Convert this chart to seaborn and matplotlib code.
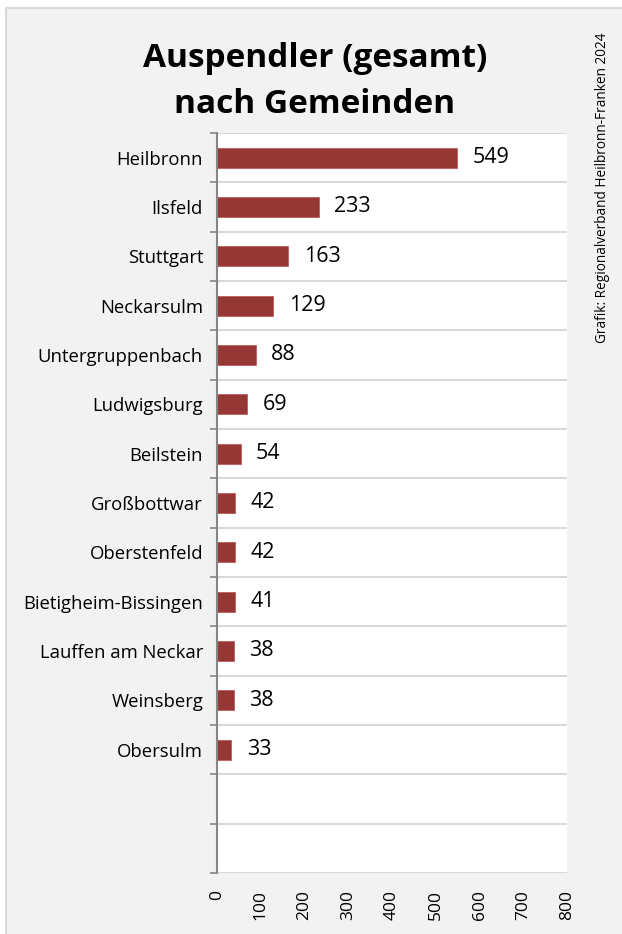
import matplotlib
matplotlib.use("Agg")
import matplotlib.pyplot as plt
import seaborn as sns
import pandas as pd
from matplotlib.patches import Rectangle
from matplotlib.ticker import FixedLocator

gemeinden = ["Heilbronn", "Ilsfeld", "Stuttgart", "Neckarsulm", "Untergruppenbach",
             "Ludwigsburg", "Beilstein", "Großbottwar", "Oberstenfeld",
             "Bietigheim-Bissingen", "Lauffen am Neckar", "Weinsberg", "Obersulm"]
auspendler = [549, 233, 163, 129, 88, 69, 54, 42, 42, 41, 38, 38, 33]
leer = [" ", "  "]
x_ticks = [0, 100, 200, 300, 400, 500, 600, 700, 800]

title_lines = ["Auspendler (gesamt)", "nach Gemeinden"]
source = "Grafik: Regionalverband Heilbronn-Franken 2024"

plt.rcParams['font.family'] = ['Open Sans', 'DejaVu Sans']

df = pd.DataFrame({"Gemeinde": gemeinden, "Auspendler": auspendler})
order = gemeinden + leer

fig = plt.figure(figsize=(6.22, 9.34), dpi=100)
fig.patch.set_facecolor("white")
frame = Rectangle((6 / 622, -0.1), 1.2, 1.1 - 8 / 934, transform=fig.transFigure,
                  facecolor="#f2f2f2", edgecolor="#d9d9d9", linewidth=1.5, zorder=-10)
fig.add_artist(frame)

ax = fig.add_axes([217 / 622, 1 - 873 / 934, 350 / 622, 740 / 934])
ax.set_zorder(1)
ax.set_facecolor("white")

sns.barplot(data=df, y="Gemeinde", x="Auspendler", order=order, orient="h",
            color="#953735", saturation=1, width=0.4, ax=ax, edgecolor="#c0504d", linewidth=0.5)

ax.bar_label(ax.containers[0], labels=[str(v) for v in auspendler], padding=11, fontsize=15.5, color="black")

ax.set_xlim(0, 800)
ax.set_ylim(len(order) - 0.5, -0.5)
ax.set_xticks(x_ticks)
ax.set_xticklabels([str(t) for t in x_ticks], rotation=90, fontsize=12.5)
ax.tick_params(axis="x", length=0, pad=12)
ax.set_yticks(range(len(order)))
ax.set_yticklabels(order, fontsize=13.3)
ax.tick_params(axis="y", which="major", length=0, pad=10)
ax.yaxis.set_minor_locator(FixedLocator([i - 0.5 for i in range(len(order) + 1)]))
ax.tick_params(axis="y", which="minor", length=5, color="#868686", width=1.2)
ax.grid(False)
ax.grid(axis="y", which="minor", color="#d9d9d9", linewidth=1.5)
ax.set_axisbelow(True)
ax.set_xlabel("")
ax.set_ylabel("")
for s in ["top", "right", "bottom"]:
    ax.spines[s].set_visible(False)
ax.spines["left"].set_color("#868686")
ax.spines["left"].set_linewidth(1.5)

fig.text(315 / 622, 1 - 67 / 934, title_lines[0], ha="center", va="baseline", fontsize=24,
         fontweight="bold")
fig.text(315 / 622, 1 - 113 / 934, title_lines[1], ha="center", va="baseline", fontsize=24,
         fontweight="bold")
fig.text(603 / 622, 1 - 188 / 934, source, rotation=90, ha="center", va="center", fontsize=9.8)

fig.savefig("out.png", dpi=100, facecolor=fig.get_facecolor())
